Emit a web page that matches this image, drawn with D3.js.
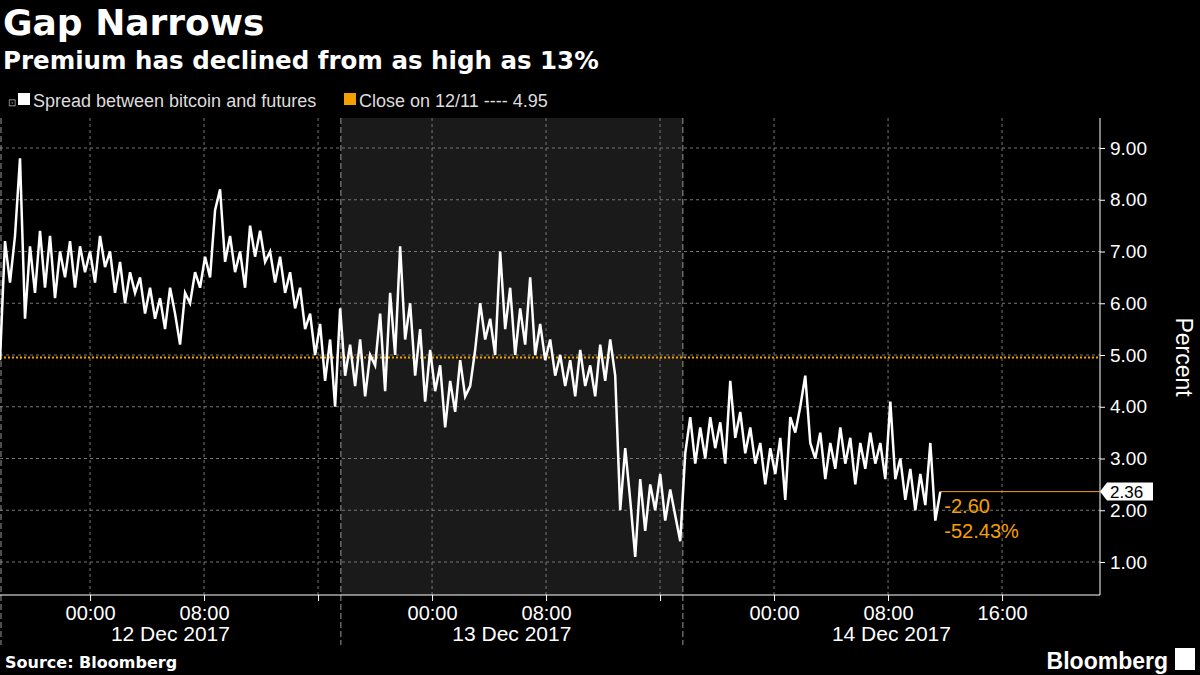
<!DOCTYPE html><html><head><meta charset="utf-8">
<script src="https://cdn.jsdelivr.net/npm/d3@7"></script>
<style>body{margin:0;background:#000}svg{display:block}</style>
</head><body><svg id="c" width="1200" height="675" font-family="Liberation Sans, Arial, sans-serif"></svg>
<script>
const spread=[4.9,7.2,6.4,7.3,8.8,5.7,7.1,6.2,7.4,6.3,7.3,6.1,7.0,6.5,7.2,6.3,7.1,6.6,7.0,6.4,7.3,6.7,7.0,6.2,6.8,6.0,6.6,6.2,6.5,5.8,6.3,5.7,6.1,5.5,6.3,5.8,5.2,6.2,6.0,6.6,6.3,6.9,6.5,7.8,8.2,6.8,7.3,6.6,7.0,6.3,7.5,6.9,7.4,6.8,7.0,6.4,6.9,6.2,6.6,5.9,6.3,5.5,5.8,5.0,5.6,4.5,5.3,4.0,5.9,4.6,5.2,4.4,5.3,4.2,5.0,4.8,5.8,4.3,6.2,5.0,7.1,5.3,6.0,4.6,5.5,4.1,5.1,4.3,4.8,3.6,4.5,3.9,4.9,4.2,4.4,5.1,6.0,5.3,5.7,5.0,7.0,5.5,6.3,5.0,5.9,5.2,6.5,5.0,5.6,4.9,5.3,4.6,5.0,4.4,4.9,4.2,5.1,4.4,4.8,4.2,5.2,4.5,5.3,4.6,2.0,3.2,2.2,1.1,2.6,1.6,2.5,2.0,2.7,1.8,2.4,1.9,1.4,3.1,3.8,2.9,3.6,3.0,3.8,3.2,3.7,2.9,4.5,3.4,3.9,3.1,3.6,2.9,3.3,2.5,3.2,2.7,3.4,2.2,3.8,3.5,4.0,4.6,3.3,3.0,3.5,2.6,3.3,2.8,3.6,2.9,3.4,2.5,3.3,2.8,3.5,2.9,3.3,2.6,4.1,2.6,3.0,2.2,2.8,2.0,2.7,2.1,3.3,1.8,2.36];
const startHour=-6.32, stepHour=0.351;
const closeValue=4.95;
const yTicks=[1,2,3,4,5,6,7,8,9];
const xTickHours=[0,8,16,24,32,40,48,56,64];
const xTickLabels=["00:00","08:00","","00:00","08:00","","00:00","08:00","16:00"];
const dayBreaks=[17.6,41.6];
const dayLabels=["12 Dec 2017","13 Dec 2017","14 Dec 2017"];
const lastChange="-2.60", lastPct="-52.43%";

const svg=d3.select("#c");
const L=0,R=1100,T=118,B=595;
const x=d3.scaleLinear().domain([startHour,startHour+R/14.25]).range([L,R]);
const y=d3.scaleLinear().domain([1,9]).range([562,148]);
svg.append("rect").attr("width",1200).attr("height",675).attr("fill","#000");
svg.append("rect").attr("x",x(dayBreaks[0])).attr("y",T).attr("width",x(dayBreaks[1])-x(dayBreaks[0])).attr("height",B-T).attr("fill","#1a1a1a");
yTicks.forEach(v=>svg.append("line").attr("x1",L).attr("x2",R).attr("y1",y(v)).attr("y2",y(v)).attr("stroke","#777").attr("stroke-dasharray","3,3").attr("stroke-width",1));
xTickHours.forEach(h=>svg.append("line").attr("x1",x(h)).attr("x2",x(h)).attr("y1",T).attr("y2",B).attr("stroke","#777").attr("stroke-dasharray","3,3"));
[0,...dayBreaks].forEach(h=>svg.append("line").attr("x1",h===0?1:x(h)).attr("x2",h===0?1:x(h)).attr("y1",T).attr("y2",645).attr("stroke","#999").attr("stroke-dasharray","6,3"));
const ya=svg.append("g").attr("transform",`translate(${R},0)`).call(d3.axisRight(y).tickValues(yTicks).tickFormat(d3.format(".2f")).tickSize(5));
ya.attr("font-family",null);
ya.select(".domain").attr("stroke","#fff").attr("d",`M0,${T}V${B}`);
ya.selectAll("line").attr("stroke","#fff");
ya.selectAll("text").attr("fill","#fff").attr("font-size",19).attr("x",10);
const xa=svg.append("g").attr("transform",`translate(0,${B})`).call(d3.axisBottom(x).tickValues(xTickHours).tickFormat((d,i)=>xTickLabels[i]).tickSize(6));
xa.attr("font-family",null);
xa.select(".domain").attr("stroke","#fff").attr("d",`M${L},0H${R}`);
xa.selectAll("line").attr("stroke","#fff");
xa.selectAll("text").attr("fill","#fff").attr("font-size",20).attr("dy","0.8em");
const bounds=[startHour,...dayBreaks,x.invert(R)];
dayLabels.forEach((t,i)=>svg.append("text").attr("x",(x(bounds[i])+x(bounds[i+1]))/2).attr("y",641).attr("text-anchor","middle").attr("fill","#fff").attr("font-size",21).text(t));
svg.append("text").attr("transform","translate(1176,357) rotate(90)").attr("text-anchor","middle").attr("fill","#fff").attr("font-size",23).text("Percent");
svg.append("line").attr("x1",L).attr("x2",R).attr("y1",y(closeValue)).attr("y2",y(closeValue)).attr("stroke","#f5a000").attr("stroke-width",2).attr("stroke-dasharray","2,2");
const pts=spread.map((v,i)=>[startHour+i*stepHour,v]);
svg.append("path").datum(pts).attr("d",d3.line().x(d=>x(d[0])).y(d=>y(d[1]))).attr("fill","none").attr("stroke","#fff").attr("stroke-width",2.5);
const last=pts[pts.length-1];
svg.append("line").attr("x1",x(last[0])).attr("x2",R).attr("y1",y(last[1])).attr("y2",y(last[1])).attr("stroke","#f5a000").attr("stroke-width",1);
svg.append("path").attr("d",`M${R},${y(last[1])}l7,-9h46v18h-46z`).attr("fill","#fff");
svg.append("text").attr("x",1110).attr("y",y(last[1])+6).attr("fill","#000").attr("font-size",17).text(last[1].toFixed(2));
svg.append("text").attr("x",x(last[0])+4).attr("y",y(last[1])+21).attr("fill","#f5a000").attr("font-size",20).text(lastChange);
svg.append("text").attr("x",x(last[0])+4).attr("y",y(last[1])+46).attr("fill","#f5a000").attr("font-size",20).text(lastPct);
svg.append("text").attr("x",3).attr("y",35).attr("fill","#fff").attr("font-size",36).attr("font-weight","bold").attr("font-family","DejaVu Sans").text("Gap Narrows");
svg.append("text").attr("x",3).attr("y",69).attr("fill","#fff").attr("font-size",24.5).attr("font-weight","bold").attr("font-family","DejaVu Sans").text("Premium has declined from as high as 13%");
svg.append("text").attr("x",8).attr("y",106).attr("fill","#aaa").attr("font-size",10).text("⊡");
svg.append("rect").attr("x",18).attr("y",93).attr("width",12).attr("height",12).attr("fill","#fff");
svg.append("text").attr("x",33).attr("y",107).attr("fill","#ddd").attr("font-size",18).text("Spread between bitcoin and futures");
svg.append("rect").attr("x",344).attr("y",93).attr("width",12).attr("height",12).attr("fill","#f5a000");
svg.append("text").attr("x",359).attr("y",107).attr("fill","#ddd").attr("font-size",18).text("Close on 12/11 ---- 4.95");
svg.append("text").attr("x",5).attr("y",668).attr("fill","#fff").attr("font-size",16).attr("font-weight","bold").attr("font-family","DejaVu Sans").text("Source: Bloomberg");
svg.append("text").attr("x",1168).attr("y",669).attr("text-anchor","end").attr("fill","#fff").attr("font-size",23).attr("font-weight","bold").text("Bloomberg");
svg.append("rect").attr("x",1175).attr("y",648).attr("width",20).attr("height",22).attr("fill","#fff");
</script></body></html>
